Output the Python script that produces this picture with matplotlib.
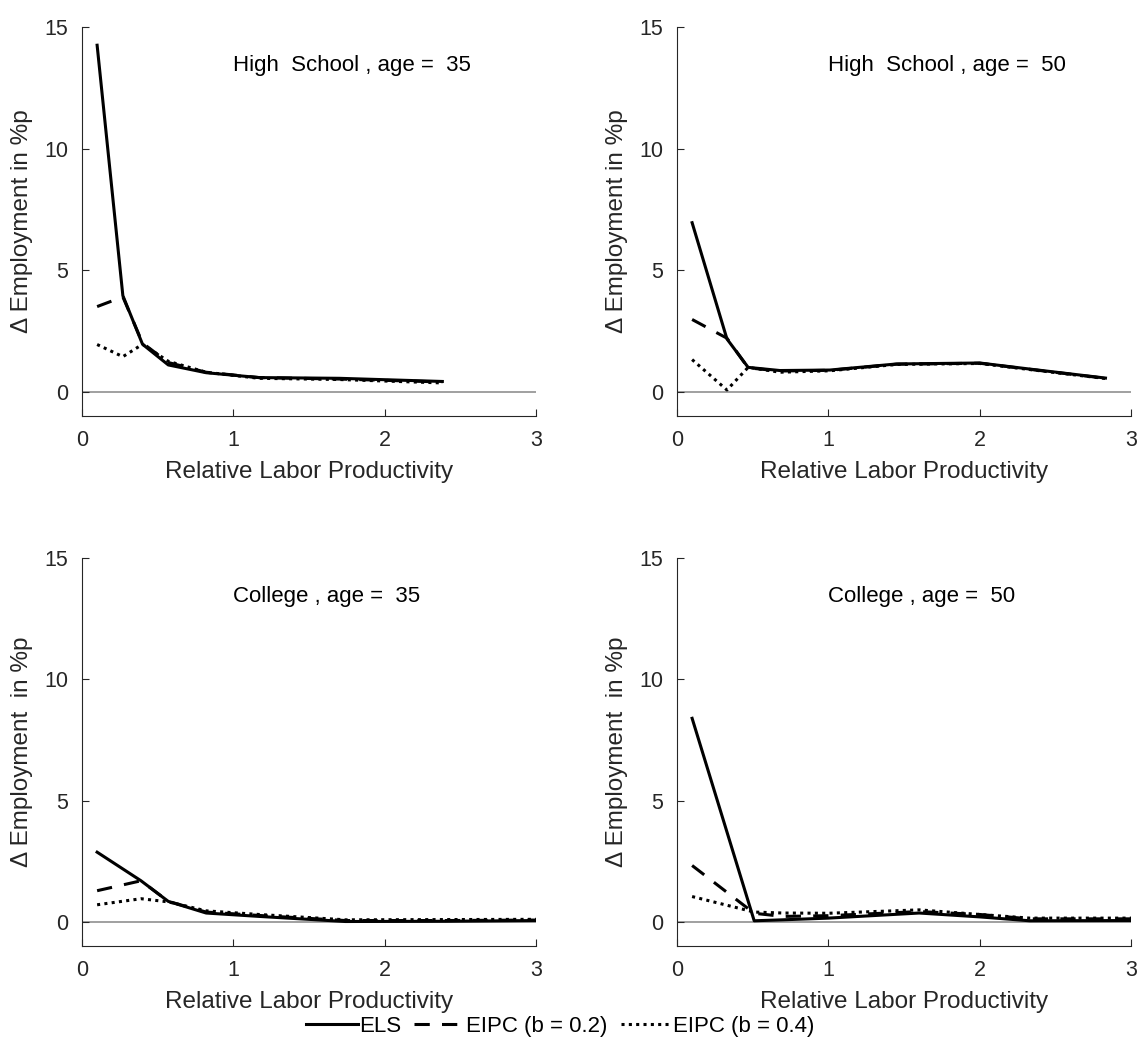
import matplotlib
matplotlib.use("Agg")
import matplotlib.pyplot as plt

plt.rcParams['font.family'] = ['Liberation Sans', 'DejaVu Sans']

# High School, age 35
hs35_x = [0.10, 0.27, 0.40, 0.57, 0.82, 1.17, 1.70, 2.38]
hs35_els = [14.25, 3.95, 1.95, 1.10, 0.78, 0.58, 0.55, 0.42]
hs35_b02 = [3.50, 3.90, 2.00, 1.20, 0.80, 0.58, 0.52, 0.40]
hs35_b04 = [1.94, 1.44, 1.95, 1.25, 0.80, 0.55, 0.50, 0.36]

# High School, age 50
hs50_x = [0.10, 0.33, 0.47, 0.68, 1.01, 1.45, 2.00, 2.33, 2.83]
hs50_els = [6.95, 2.17, 1.00, 0.87, 0.89, 1.14, 1.18, 0.93, 0.56]
hs50_b02 = [2.97, 2.20, 0.98, 0.85, 0.88, 1.13, 1.17, 0.92, 0.55]
hs50_b04 = [1.32, 0.07, 1.00, 0.80, 0.86, 1.12, 1.16, 0.91, 0.54]

# College, age 35
co35_x = [0.10, 0.39, 0.57, 0.82, 1.17, 1.74, 2.40, 3.00]
co35_els = [2.87, 1.69, 0.84, 0.36, 0.22, 0.01, 0.02, 0.05]
co35_b02 = [1.28, 1.69, 0.84, 0.40, 0.26, 0.05, 0.05, 0.07]
co35_b04 = [0.70, 0.95, 0.82, 0.45, 0.30, 0.08, 0.09, 0.10]

# College, age 50
co50_x = [0.10, 0.51, 0.70, 1.00, 1.60, 2.00, 2.33, 3.00]
co50_els = [8.39, 0.04, 0.08, 0.15, 0.36, 0.20, 0.04, 0.05]
co50_b02 = [2.32, 0.35, 0.22, 0.25, 0.42, 0.30, 0.12, 0.12]
co50_b04 = [1.04, 0.40, 0.36, 0.35, 0.49, 0.30, 0.15, 0.15]

panels = [
    ("High  School , age =  35", "\u0394 Employment in %p", hs35_x, hs35_els, hs35_b02, hs35_b04),
    ("High  School , age =  50", "\u0394 Employment in %p", hs50_x, hs50_els, hs50_b02, hs50_b04),
    ("College , age =  35", "\u0394 Employment  in %p", co35_x, co35_els, co35_b02, co35_b04),
    ("College , age =  50", "\u0394 Employment  in %p", co50_x, co50_els, co50_b02, co50_b04),
]

positions = [
    [0.0721, 0.6023, 0.3995, 0.3719],
    [0.5954, 0.6023, 0.3995, 0.3719],
    [0.0721, 0.0956, 0.3995, 0.3709],
    [0.5954, 0.0956, 0.3995, 0.3709],
]

fig = plt.figure(figsize=(11.37, 10.46), dpi=100)

handles = None
for pos, (title, ylab, x, els, b02, b04) in zip(positions, panels):
    ax = fig.add_axes(pos)
    ax.axhline(0, color='#999999', lw=1.3, zorder=1)
    h1, = ax.plot(x, els, color='black', lw=2.2, ls='-', label='ELS', zorder=4)
    h2, = ax.plot(x, b02, color='black', lw=2.2, ls=(0, (5, 4)), label='EIPC (b = 0.2)', zorder=3)
    h3, = ax.plot(x, b04, color='black', lw=2.2, ls=(0, (1, 1.4)), label='EIPC (b = 0.4)', zorder=2)
    handles = [h1, h2, h3]
    ax.set_xlim(0, 3)
    ax.set_ylim(-1, 15)
    ax.set_xticks([0, 1, 2, 3])
    ax.set_yticks([0, 5, 10, 15])
    ax.spines['top'].set_visible(False)
    ax.spines['right'].set_visible(False)
    for s in ('left', 'bottom'):
        ax.spines[s].set_color('#262626')
        ax.spines[s].set_linewidth(0.8)
    ax.tick_params(direction='in', length=5, width=0.8, colors='#262626',
                   labelsize=15.5, pad=10, labelcolor='#262626')
    ax.set_xlabel('Relative Labor Productivity', fontsize=17.5, color='#262626', labelpad=7)
    ax.set_ylabel(ylab, fontsize=17.5, color='#262626', labelpad=8)
    ax.text(1.0, 13.4, title, fontsize=16, ha='left', va='center', color='black')

fig.legend(handles=handles, loc='center', bbox_to_anchor=(0.493, 0.0185), ncol=3,
           frameon=False, fontsize=16, handlelength=2.3, handletextpad=0.05,
           columnspacing=0.6)

fig.savefig('out.png', dpi=100)
